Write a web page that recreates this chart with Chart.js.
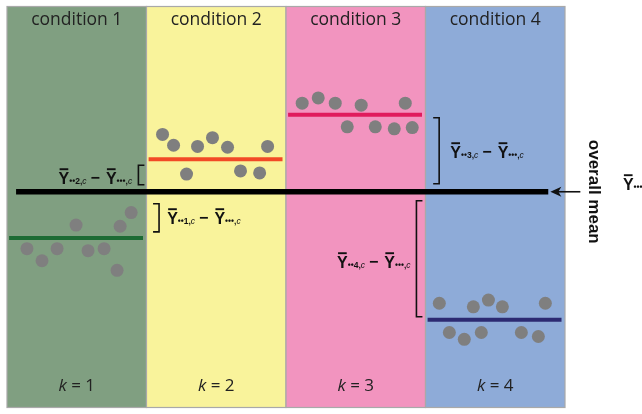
<!DOCTYPE html>
<html>
<head>
<meta charset="utf-8">
<script src="https://cdn.jsdelivr.net/npm/chart.js@4.4.1/dist/chart.umd.min.js"></script>
<style>
  html, body { margin: 0; padding: 0; background: #fff; }
</style>
</head>
<body>
<canvas id="anovaChart" width="642" height="414"></canvas>
<script>
const conditions = ['condition 1', 'condition 2', 'condition 3', 'condition 4'];
const kValues = ['1', '2', '3', '4'];

// dot position inside each condition (0..1) and response value
const group1X = [0.143, 0.251, 0.359, 0.495, 0.581, 0.696, 0.789, 0.811, 0.890];
const group1Y = [3.96, 3.66, 3.96, 4.55, 3.91, 3.96, 3.42, 4.52, 4.86];
const group2X = [0.115, 0.194, 0.287, 0.366, 0.473, 0.581, 0.674, 0.811, 0.868];
const group2Y = [6.81, 6.54, 5.82, 6.51, 6.73, 6.49, 5.90, 5.85, 6.51];
const group3X = [0.116, 0.231, 0.353, 0.439, 0.539, 0.640, 0.776, 0.855, 0.905];
const group3Y = [7.59, 7.72, 7.59, 7.00, 7.54, 7.00, 6.95, 7.59, 6.98];
const group4X = [0.099, 0.171, 0.278, 0.343, 0.400, 0.451, 0.551, 0.687, 0.809, 0.859];
const group4Y = [2.60, 1.87, 1.70, 2.51, 1.87, 2.68, 2.51, 1.87, 1.77, 2.60];

const groupMeans = [4.23, 6.19, 7.30, 2.19];
const overallMean = 5.38;

const panelColors = ['#809f81', '#f9f39b', '#f294bf', '#8eabd8'];
const meanColors = ['#1d6b34', '#f24a26', '#e01b5d', '#2c2a72'];
const dotColor = '#7f7f7f';

const groupsX = [group1X, group2X, group3X, group4X];
const groupsY = [group1Y, group2Y, group3Y, group4Y];

const datasets = [];
groupsX.forEach((xs, k) => {
  datasets.push({
    type: 'scatter',
    data: xs.map((x, i) => ({ x: k + x, y: groupsY[k][i] })),
    backgroundColor: dotColor,
    borderWidth: 0,
    pointRadius: 6.5,
    order: 2
  });
  datasets.push({
    type: 'line',
    data: [{ x: k + 0.015, y: groupMeans[k] }, { x: k + 0.975, y: groupMeans[k] }],
    borderColor: meanColors[k],
    borderWidth: 4,
    pointRadius: 0,
    order: 1
  });
});
datasets.push({
  type: 'line',
  data: [{ x: 0.065, y: overallMean }, { x: 3.88, y: overallMean }],
  borderColor: '#000',
  borderWidth: 5.5,
  pointRadius: 0,
  order: 0
});

const MATH_FONT = '"Liberation Sans", Arial, sans-serif';

// draws Y-bar with subscript, returns end x
function yBar(ctx, x, base, sub, draw) {
  ctx.font = 'bold 16px ' + MATH_FONT;
  const w = ctx.measureText('Y').width;
  if (draw) {
    ctx.fillText('Y', x, base);
    ctx.fillRect(x + 1, base - 15.5, w - 2, 1.9);
  }
  let cx = x + w;
  ctx.font = 'bold 8.5px ' + MATH_FONT;
  if (draw) ctx.fillText(sub, cx, base);
  cx += ctx.measureText(sub).width;
  ctx.font = 'italic 8.5px ' + MATH_FONT;
  if (draw) ctx.fillText('c', cx, base);
  cx += ctx.measureText('c').width;
  return cx;
}

function diffLabel(ctx, x, base, k, align, draw) {
  let cx = x;
  if (align === 'right') {
    const w = diffLabel(ctx, 0, base, k, 'left', false);
    cx = x - w;
  }
  const start = cx;
  cx = yBar(ctx, cx, base, '\u2022\u2022' + k + ',', draw);
  ctx.font = 'bold 16px ' + MATH_FONT;
  cx += 4;
  if (draw) ctx.fillText('\u2212', cx, base - 1);
  cx += ctx.measureText('\u2212').width + 6;
  cx = yBar(ctx, cx, base, '\u2022\u2022\u2022,', draw);
  return cx - start;
}

function bracket(ctx, x, y1, y2, dir) {
  ctx.beginPath();
  ctx.moveTo(x + dir * 6, y1);
  ctx.lineTo(x, y1);
  ctx.lineTo(x, y2);
  ctx.lineTo(x + dir * 6, y2);
  ctx.stroke();
}

const panelPlugin = {
  id: 'panels',
  beforeDatasetsDraw(chart) {
    const { ctx, scales: { x, y } } = chart;
    const top = y.getPixelForValue(10);
    const bottom = y.getPixelForValue(0);
    ctx.save();
    panelColors.forEach((c, k) => {
      const l = x.getPixelForValue(k);
      const r = x.getPixelForValue(k + 1);
      ctx.fillStyle = c;
      ctx.fillRect(l, top, r - l, bottom - top);
      ctx.strokeStyle = '#a9a9a9';
      ctx.lineWidth = 1.2;
      ctx.strokeRect(l, top, r - l, bottom - top);
    });
    ctx.restore();
  },
  afterDatasetsDraw(chart) {
    const { ctx, scales: { x, y } } = chart;
    const yO = y.getPixelForValue(overallMean);
    const yM = groupMeans.map(m => y.getPixelForValue(m));
    ctx.save();
    ctx.fillStyle = '#222';
    ctx.textBaseline = 'alphabetic';

    // titles and k labels
    conditions.forEach((t, k) => {
      const cx = x.getPixelForValue(k + 0.5);
      ctx.font = '17.5px "Open Sans", sans-serif';
      ctx.textAlign = 'center';
      ctx.fillText(t, cx, 25);
      ctx.textAlign = 'left';
      ctx.font = 'italic 17px "Open Sans", sans-serif';
      const kw = ctx.measureText('k').width;
      ctx.font = '17px "Open Sans", sans-serif';
      const rest = ' = ' + kValues[k];
      const rw = ctx.measureText(rest).width;
      const sx = cx - (kw + rw) / 2;
      ctx.font = 'italic 17px "Open Sans", sans-serif';
      ctx.fillText('k', sx, 391);
      ctx.font = '17px "Open Sans", sans-serif';
      ctx.fillText(rest, sx + kw, 391);
    });

    // brackets
    ctx.strokeStyle = '#111';
    ctx.lineWidth = 1.6;
    bracket(ctx, x.getPixelForValue(0.942), yM[1] + 6, yO - 7, 1);
    bracket(ctx, x.getPixelForValue(1.09), yO + 12, yM[0] - 6, -1);
    bracket(ctx, x.getPixelForValue(3.098), yM[2] + 3, yO - 8, -1);
    bracket(ctx, x.getPixelForValue(2.935), yO + 9, yM[3] - 3, 1);

    // difference labels
    ctx.fillStyle = '#111';
    ctx.textAlign = 'left';
    diffLabel(ctx, x.getPixelForValue(0.897), yO - 8, 2, 'right', true);
    diffLabel(ctx, x.getPixelForValue(1.148), yO + 32, 1, 'left', true);
    diffLabel(ctx, x.getPixelForValue(3.178), yO - 34, 3, 'left', true);
    diffLabel(ctx, x.getPixelForValue(2.893), yO + 76, 4, 'right', true);

    // arrow to overall mean
    const ax = x.getPixelForValue(3.895);
    ctx.lineWidth = 1.6;
    ctx.beginPath();
    ctx.moveTo(ax + 6, yO);
    ctx.lineTo(ax + 30, yO);
    ctx.stroke();
    ctx.beginPath();
    ctx.moveTo(ax, yO);
    ctx.lineTo(ax + 11, yO - 5);
    ctx.lineTo(ax + 8, yO);
    ctx.lineTo(ax + 11, yO + 5);
    ctx.closePath();
    ctx.fill();

    // vertical label
    ctx.save();
    ctx.translate(x.getPixelForValue(4.204), yO);
    ctx.rotate(Math.PI / 2);
    ctx.textAlign = 'center';
    ctx.textBaseline = 'middle';
    ctx.font = 'bold 17px "Liberation Sans", Arial, sans-serif';
    ctx.fillStyle = '#111';
    ctx.fillText('overall mean', 0, 0);
    ctx.restore();

    yBar(ctx, x.getPixelForValue(4.415), yO - 2, '\u2022\u2022\u2022,', true);
    ctx.restore();
  }
};

new Chart(document.getElementById('anovaChart'), {
  type: 'scatter',
  data: { datasets },
  options: {
    responsive: false,
    devicePixelRatio: 1,
    animation: false,
    layout: { padding: { left: 7, right: 77, top: 3, bottom: 4 } },
    scales: {
      x: { type: 'linear', min: 0, max: 4, display: false },
      y: { type: 'linear', min: 0, max: 10, display: false }
    },
    plugins: {
      legend: { display: false },
      tooltip: { enabled: false }
    }
  },
  plugins: [panelPlugin]
});
</script>
</body>
</html>
